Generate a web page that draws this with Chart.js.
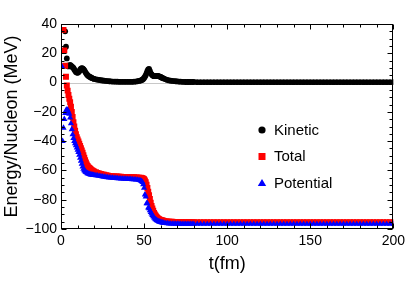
<!DOCTYPE html>
<html>
<head>
<meta charset="utf-8">
<script src="https://cdn.jsdelivr.net/npm/chart.js@4.4.0/dist/chart.umd.min.js"></script>
<style>
  html, body { margin: 0; padding: 0; background: #fff; }
</style>
</head>
<body>
<canvas id="energyChart" width="409" height="292"></canvas>
<script>
// time grid (fm)
const times = [
  0.5,1,1.5,2,2.5,3,3.5,4,4.5,5,5.5,6,6.5,7,7.5,8,8.5,9,9.5,10,
  10.5,11,11.5,12,12.5,13,13.5,14,14.5,15,15.5,16,16.5,17,17.5,18,18.5,19,19.5,20,
  21,22,23,24,25,26,27,28,29,30,31,32,33,34,35,36,37,38,39,40,
  41,42,43,44,45,46,47,48,
  48.5,49,49.5,50,50.5,51,51.5,52,52.5,53,53.5,54,54.5,55,55.5,56,56.5,57,57.5,58,58.5,59,59.5,60,60.5,61,61.5,62,
  63,64,65,66,67,68,69,70,71,72,73,74,75,76,77,78,79,80,
  82,84,86,88,90,92,94,96,98,100,102,104,106,108,110,112,114,116,118,120,
  122,124,126,128,130,132,134,136,138,140,142,144,146,148,150,152,154,156,158,160,
  162,164,166,168,170,172,174,176,178,180,182,184,186,188,190,192,194,196,198,200
];

const kinetic = [
  null,null,null,null,35,24.5,16.5,11.5,11,11.5,12,11.5,11,10.5,10,9,8,7.2,6.8,6.7,
  7,7.8,8.8,9.5,9.8,9.7,9.2,8.5,7.5,6.5,5.7,5,4.5,4.1,3.8,3.5,3.2,2.9,2.7,2.5,
  2.2,2.0,1.8,1.6,1.4,1.3,1.1,1.0,0.9,0.8,0.7,0.7,0.6,0.6,0.5,0.5,0.5,0.5,0.5,0.5,
  0.5,0.5,0.5,0.6,0.7,0.9,1.1,1.4,
  1.7,2.0,2.5,3.2,4,5,6.5,8,9,9.3,8,6.5,5.6,5,4.6,4.4,4.4,4.4,4.5,4.6,4.5,4.3,4.1,3.8,3.5,3.2,2.9,2.7,
  2.2,1.8,1.5,1.3,1.1,1.0,0.9,0.8,0.7,0.6,0.5,0.5,0.4,0.4,0.4,0.4,0.4,0.4,
  0.3,0.3,0.3,0.3,0.3,0.3,0.3,0.3,0.3,0.3,0.3,0.3,0.3,0.3,0.3,0.3,0.3,0.3,0.3,0.3,
  0.3,0.3,0.3,0.3,0.3,0.3,0.3,0.3,0.3,0.3,0.3,0.3,0.3,0.3,0.3,0.3,0.3,0.3,0.3,0.3,
  0.3,0.3,0.3,0.3,0.3,0.3,0.3,0.3,0.3,0.3,0.3,0.3,0.3,0.3,0.3,0.3,0.3,0.3,0.3,0.3
];

const total = [
  null,null,36,22,11.5,4,-2,-5.5,-8.5,-11,-13.5,-16.5,-20,-23.5,-27,-30,-32.8,-35.2,-37.3,-38.8,
  -40.3,-41.8,-43.3,-44.8,-46.3,-47.9,-49.6,-51.3,-53,-54.6,-55.9,-57,-57.8,-58.4,-58.9,-59.4,-59.8,-60.2,-60.5,-60.8,
  -61.3,-61.7,-62,-62.4,-62.7,-63,-63.3,-63.5,-63.7,-63.9,-64,-64.1,-64.2,-64.2,-64.3,-64.3,-64.4,-64.4,-64.5,-64.5,
  -64.6,-64.6,-64.7,-64.7,-64.8,-64.8,-64.9,-65,
  -65.1,-65.3,-65.6,-66,-66.8,-68,-69.8,-72,-74.5,-77,-79.5,-82,-84.2,-86,-87.6,-89,-90.1,-91,-91.8,-92.5,-92.9,-93.3,-93.6,-93.8,-94,-94.2,-94.4,-94.5,
  -94.7,-94.9,-95,-95.1,-95.1,-95.2,-95.2,-95.3,-95.3,-95.3,-95.3,-95.3,-95.3,-95.3,-95.3,-95.3,-95.3,-95.3,
  -95.3,-95.3,-95.3,-95.3,-95.3,-95.3,-95.3,-95.3,-95.3,-95.3,-95.3,-95.3,-95.3,-95.3,-95.3,-95.3,-95.3,-95.3,-95.3,-95.3,
  -95.3,-95.3,-95.3,-95.3,-95.3,-95.3,-95.3,-95.3,-95.3,-95.3,-95.3,-95.3,-95.3,-95.3,-95.3,-95.3,-95.3,-95.3,-95.3,-95.3,
  -95.3,-95.3,-95.3,-95.3,-95.3,-95.3,-95.3,-95.3,-95.3,-95.3,-95.3,-95.3,-95.3,-95.3,-95.3,-95.3,-95.3,-95.3,-95.3,-95.3
];

const potential = [
  11,-40,-31,-25,-21,-19,-18.5,-18.7,-20,-21.5,-24,-28,-32,-35.5,-38,-40,-41.5,-43,-44.5,-46,
  -47.5,-49.5,-51.5,-53.5,-55.5,-57.5,-59,-60,-60.7,-61.2,-61.6,-62,-62.3,-62.5,-62.7,-62.9,-63,-63.1,-63.2,-63.3,
  -63.4,-63.6,-63.8,-64,-64.2,-64.4,-64.6,-64.8,-64.9,-65,-65.1,-65.2,-65.3,-65.4,-65.5,-65.6,-65.7,-65.8,-65.8,-65.9,
  -66,-66,-66.1,-66.2,-66.3,-66.4,-66.6,-67,
  -67.4,-68,-69.5,-72,-76.5,-78,-82.5,-82.5,-85.5,-86,-87.3,-88.5,-89.5,-90.5,-91.5,-92.3,-93,-93.5,-94,-94.4,-94.7,-95,-95.2,-95.4,-95.6,-95.7,-95.8,-95.9,
  -96.1,-96.2,-96.3,-96.4,-96.4,-96.5,-96.5,-96.5,-96.5,-96.6,-96.6,-96.6,-96.6,-96.6,-96.6,-96.6,-96.6,-96.6,
  -96.6,-96.6,-96.6,-96.6,-96.6,-96.6,-96.6,-96.6,-96.6,-96.6,-96.6,-96.6,-96.6,-96.6,-96.6,-96.6,-96.6,-96.6,-96.6,-96.6,
  -96.6,-96.6,-96.6,-96.6,-96.6,-96.6,-96.6,-96.6,-96.6,-96.6,-96.6,-96.6,-96.6,-96.6,-96.6,-96.6,-96.6,-96.6,-96.6,-96.6,
  -96.6,-96.6,-96.6,-96.6,-96.6,-96.6,-96.6,-96.6,-96.6,-96.6,-96.6,-96.6,-96.6,-96.6,-96.6,-96.6,-96.6,-96.6,-96.6,-96.6
];

const xTicks = [0, 50, 100, 150, 200];
const yTicks = [40, 20, 0, -20, -40, -60, -80, -100];

const FONT = '"Liberation Sans", Arial, Helvetica, sans-serif';

function toPoints(vals) {
  return vals.map((v, i) => ({ x: times[i], y: v }));
}

// grey zero line, frame and inward ticks on all four sides (Mathematica style)
const frameTicks = {
  id: 'frameTicks',
  beforeDatasetsDraw(chart) {
    const { ctx, chartArea: a, scales: { y } } = chart;
    const y0 = Math.round(y.getPixelForValue(0)) + 0.5;
    ctx.save();
    ctx.strokeStyle = '#c8c8c8';
    ctx.lineWidth = 1;
    ctx.beginPath();
    ctx.moveTo(a.left, y0);
    ctx.lineTo(a.right, y0);
    ctx.stroke();
    ctx.restore();
  },
  afterDatasetsDraw(chart) {
    const { ctx, chartArea: a, scales: { x, y } } = chart;
    const L = Math.round(a.left) + 0.5, R = Math.round(a.right) - 0.5;
    const T = Math.round(a.top) + 0.5, B = Math.round(a.bottom) - 0.5;
    ctx.save();
    ctx.strokeStyle = '#000';
    ctx.lineWidth = 1;
    ctx.strokeRect(L, T, R - L, B - T);
    ctx.beginPath();
    for (let v = 0; v <= 200; v += 10) {
      const px = Math.round(x.getPixelForValue(v)) + 0.5;
      const len = v % 50 === 0 ? 5 : 3;
      ctx.moveTo(px, B); ctx.lineTo(px, B - len);
      ctx.moveTo(px, T); ctx.lineTo(px, T + len);
    }
    for (let v = -100; v <= 40; v += 5) {
      const py = Math.round(y.getPixelForValue(v)) + 0.5;
      const len = v % 20 === 0 ? 5 : 3;
      ctx.moveTo(L, py); ctx.lineTo(L + len, py);
      ctx.moveTo(R, py); ctx.lineTo(R - len, py);
    }
    ctx.stroke();
    ctx.restore();
  }
};

// legend inside the plot
const insideLegend = {
  id: 'insideLegend',
  afterDraw(chart) {
    const ctx = chart.ctx;
    const mx = 262, tx = 274, top = 130, gap = 26.5;
    ctx.save();
    ctx.font = '15px ' + FONT;
    ctx.textBaseline = 'middle';
    chart.data.datasets.forEach((ds, i) => {
      const cy = top + i * gap;
      ctx.fillStyle = ds.backgroundColor;
      ctx.beginPath();
      if (ds.pointStyle === 'circle') {
        ctx.arc(mx, cy, 3.6, 0, Math.PI * 2);
      } else if (ds.pointStyle === 'rect') {
        ctx.rect(mx - 3.5, cy - 3.5, 7, 7);
      } else {
        ctx.moveTo(mx, cy - 4);
        ctx.lineTo(mx + 4.2, cy + 3);
        ctx.lineTo(mx - 4.2, cy + 3);
        ctx.closePath();
      }
      ctx.fill();
      ctx.fillStyle = '#000';
      ctx.fillText(ds.label, tx, cy + 0.5);
    });
    ctx.restore();
  }
};

const ctx = document.getElementById('energyChart').getContext('2d');
const chart = new Chart(ctx, {
  type: 'scatter',
  data: {
    datasets: [
      { label: 'Kinetic', data: toPoints(kinetic), pointStyle: 'circle', pointRadius: 2.9,
        backgroundColor: '#000000', borderWidth: 0, order: 2, clip: 0 },
      { label: 'Total', data: toPoints(total), pointStyle: 'rect', pointRadius: 4.2,
        backgroundColor: '#ff0000', borderWidth: 0, order: 1, clip: 0 },
      { label: 'Potential', data: toPoints(potential), pointStyle: 'triangle', pointRadius: 3.6,
        backgroundColor: '#0000ff', borderWidth: 0, order: 0, clip: 0 }
    ]
  },
  options: {
    responsive: false,
    animation: false,
    devicePixelRatio: 1,
    layout: { padding: { top: 24, right: 13, left: 0, bottom: 0 } },
    plugins: { legend: { display: false }, tooltip: { enabled: false } },
    elements: { point: { hoverRadius: 0 } },
    scales: {
      x: {
        type: 'linear', min: 0, max: 200,
        afterFit: s => { s.height = 63; },
        afterBuildTicks: s => { s.ticks = xTicks.map(v => ({ value: v })); },
        grid: { display: false, drawTicks: false },
        border: { display: false },
        ticks: { color: '#000', padding: 4, maxRotation: 0, font: { family: FONT, size: 14 } },
        title: { display: true, text: 't(fm)', color: '#000', padding: { top: 0, bottom: 17 },
                 font: { family: FONT, size: 18 } }
      },
      y: {
        type: 'linear', min: -100, max: 40,
        afterFit: s => { s.width = 61; },
        afterBuildTicks: s => { s.ticks = yTicks.map(v => ({ value: v })); },
        grid: { display: false, drawTicks: false },
        border: { display: false },
        ticks: { color: '#000', padding: 4, font: { family: FONT, size: 14 },
                 callback: v => String(v).replace('-', '\u2212') },
        title: { display: true, text: 'Energy/Nucleon (MeV)', color: '#000', padding: { top: 1, bottom: 0 },
                 font: { family: FONT, size: 18 } }
      }
    }
  },
  plugins: [frameTicks, insideLegend]
});
</script>
</body>
</html>
